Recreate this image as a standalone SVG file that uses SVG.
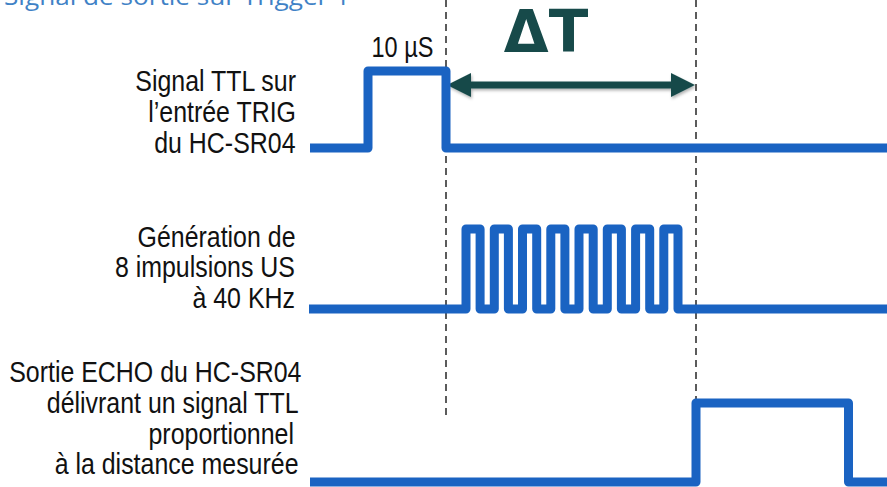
<svg xmlns="http://www.w3.org/2000/svg" width="887" height="487" viewBox="0 0 887 487">
<style>
.sig{fill:none;stroke:#1a63c2;stroke-width:9;stroke-linejoin:round;stroke-linecap:butt}
.dash{fill:none;stroke:#333;stroke-width:1.6;stroke-dasharray:7 5}
.lbl{font-family:"Liberation Sans",Arial,sans-serif;font-size:29px;fill:#111;text-anchor:end}
.arr{fill:#174a4a}
</style>
<defs>
<filter id="sh" x="-5%" y="-50%" width="110%" height="200%">
<feDropShadow dx="1" dy="2" stdDeviation="1.5" flood-color="#000" flood-opacity="0.3"/>
</filter>
</defs>
<rect width="887" height="487" fill="#fff"/>
<text x="4" y="5" font-family="'Open Sans','Liberation Sans',sans-serif" font-size="24" fill="#3f82c6" textLength="346" lengthAdjust="spacingAndGlyphs">Signal de sortie sur Trigger 1</text>

<g id="connectors">
<line class="dash" x1="446" y1="0" x2="446" y2="415"/>
<line class="dash" x1="696" y1="0" x2="696" y2="442"/>
<g filter="url(#sh)">
<line x1="465" y1="85" x2="677" y2="85" stroke="#174a4a" stroke-width="7"/>
<polygon class="arr" points="447,85 471,73 471,97"/>
<polygon class="arr" points="695,85 671,73 671,97"/>
</g>
</g>

<g id="deltaT">
<text x="546" y="52" font-family="'DejaVu Sans',sans-serif" font-weight="bold" font-size="58" fill="#174a4a" text-anchor="middle">ΔT</text>
</g>

<g id="pulse-label">
<text class="lbl" transform="translate(371.5 56.5) scale(0.81 1)" style="text-anchor:start">10 µS</text>
</g>

<g id="trig">
<path class="sig" d="M310,148 H368 V71 H446 V148 H887"/>
<text class="lbl" transform="translate(296 90.5) scale(0.86 1)">Signal TTL sur</text>
<text class="lbl" transform="translate(296 121.5) scale(0.86 1)">l’entrée TRIG</text>
<text class="lbl" transform="translate(295.5 152.5) scale(0.86 1)">du HC-SR04</text>
</g>

<g id="burst">
<path class="sig" d="M309,309 H466 V229 H480.1 V309 H494.3 V229 H508.4 V309 H522.5 V229 H536.7 V309 H550.8 V229 H564.9 V309 H579 V229 H593.2 V309 H607.3 V229 H621.4 V309 H635.6 V229 H649.7 V309 H663.8 V229 H678 V309 H887"/>
<text class="lbl" transform="translate(295.5 246.5) scale(0.86 1)">Génération de</text>
<text class="lbl" transform="translate(295 277) scale(0.86 1)">8 impulsions US</text>
<text class="lbl" transform="translate(295 307.5) scale(0.86 1)">à 40 KHz</text>
</g>

<g id="echo">
<path class="sig" d="M310,482 H696 V403 H848.5 V482 H887"/>
<text class="lbl" transform="translate(301.5 382) scale(0.86 1)">Sortie ECHO du HC-SR04</text>
<text class="lbl" transform="translate(298.5 413) scale(0.86 1)">délivrant un signal TTL</text>
<text class="lbl" transform="translate(294 443.5) scale(0.86 1)">proportionnel</text>
<text class="lbl" transform="translate(298.5 474) scale(0.86 1)">à la distance mesurée</text>
</g>
</svg>
